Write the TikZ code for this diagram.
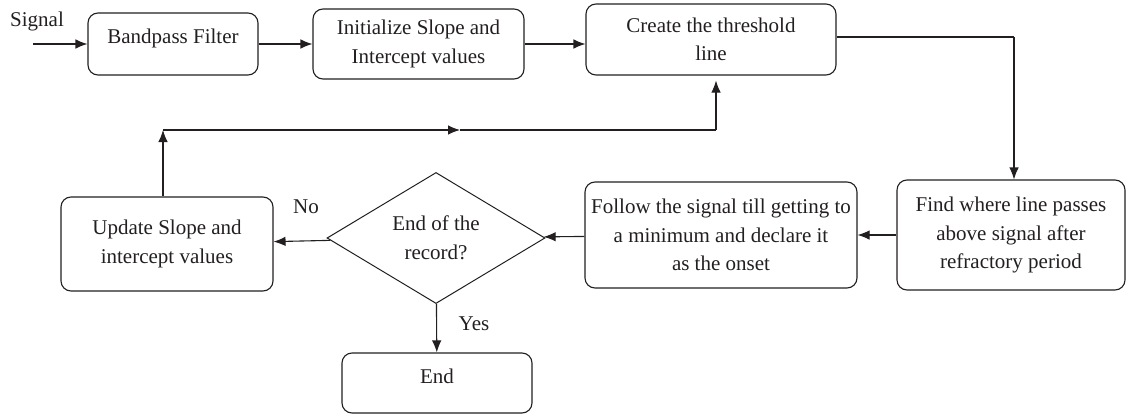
\documentclass[tikz,border=0pt]{standalone}
\usepackage{fontspec}
\setmainfont{Liberation Serif}
\usepackage{tikz}
\usetikzlibrary{arrows.meta,shapes.geometric,positioning}
\definecolor{ink}{HTML}{231F20}

\begin{document}
\begin{tikzpicture}[x=1pt, y=-1pt, color=ink,
    font=\fontsize{21}{28.5}\selectfont,
    blk/.style={draw, rounded corners=10pt, line width=1.1pt, align=center, inner sep=1pt},
    dec/.style={draw, diamond, line width=1pt, align=center, inner sep=0pt},
    arr/.style={-{Latex[length=12pt,width=9.5pt]}, line width=1.1pt},
    lbl/.style={inner sep=0pt}]
    \useasboundingbox (0,0) rectangle (1127,415);

    \node[lbl] (sig) at (37,21) {Signal};
    \coordinate (sigin) at (33,44);
    \node[blk, minimum width=170pt, minimum height=62pt, text depth=15pt] (bpf) at (173,44) {Bandpass Filter};
    \node[blk, minimum width=211pt, minimum height=70pt] (init) at (418.5,44) {Initialize Slope and\\Intercept values};
    \node[blk, minimum width=250pt, minimum height=71pt] (thr) at (711,39.5) {Create the threshold\\line};
    \node[blk, minimum width=228pt, minimum height=110pt] (find) at (1011,235) {Find where line passes\\above signal after\\refractory period};
    \node[blk, minimum width=272pt, minimum height=106pt] (onset) at (721,235) {Follow the signal till getting to\\a minimum and declare it\\as the onset};
    \node[dec, minimum width=218pt, minimum height=128pt] (rec) at (436,238) {End of the\\record?};
    \node[blk, minimum width=212pt, minimum height=94pt] (upd) at (167,244) {Update Slope and\\intercept values};
    \node[blk, minimum width=190pt, minimum height=60pt, text depth=14pt] (stop) at (437,383) {End};
    \node[lbl] (no) at (306,207) {No};
    \node[lbl] (yes) at (474,324) {Yes};

    \coordinate (tr) at (1014,37);
    \coordinate (lp) at (163,130);
    \coordinate (mid) at (460,130);
    \coordinate (rp) at (716,130);

    \draw[arr] (sigin) -- (bpf);
    \draw[arr] (bpf) -- (init);
    \draw[arr] (init.east) -- (init.east -| thr.west);
    \draw[line width=1.1pt] (thr.east |- tr) -- (tr);
    \draw[arr] (tr) -- (tr |- find.north);
    \draw[arr] (find) -- (onset);
    \draw[arr] (onset) -- (rec);
    \draw[arr] (rec) -- (upd);
    \draw[arr] (rec) -- (stop);
    \draw[arr] (upd.north -| lp) -- (lp);
    \draw[arr] (lp) -- (mid);
    \draw[line width=1.1pt] (mid) -- (rp);
    \draw[arr, shorten >=5pt] (rp) -- (rp |- thr.south);
\end{tikzpicture}
\end{document}
